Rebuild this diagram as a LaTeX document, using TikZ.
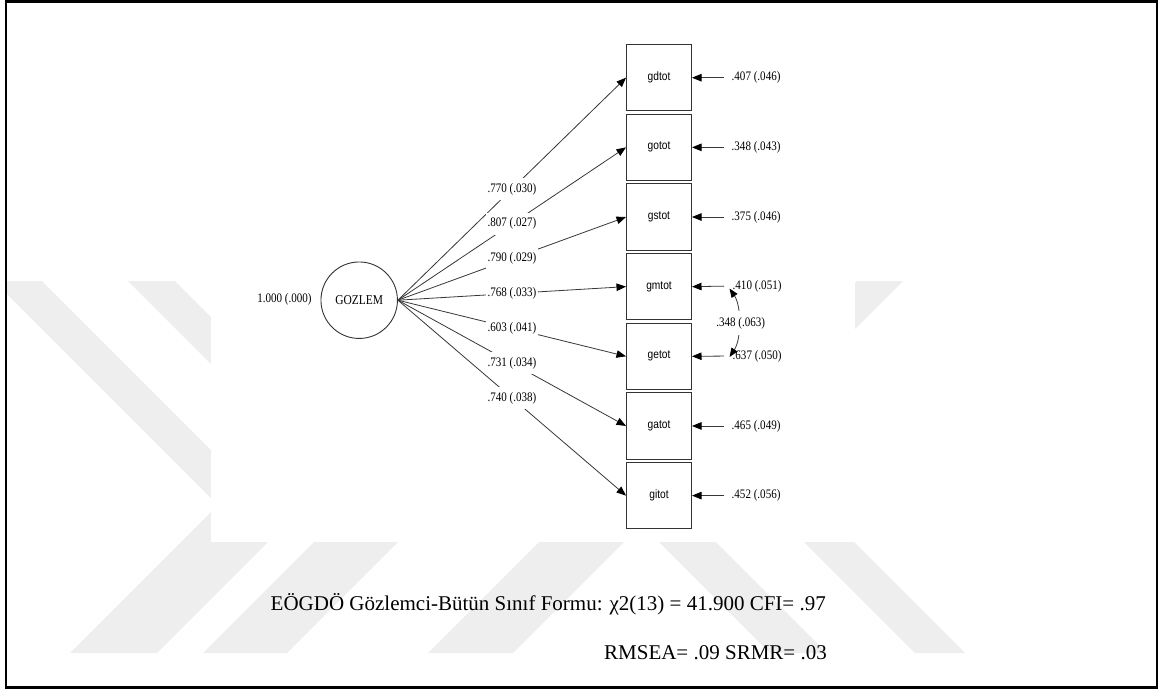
\documentclass[tikz,border=0pt]{standalone}
\usepackage{fontspec}
\setmainfont{Liberation Serif}
\newfontfamily\condserif[FakeStretch=0.85]{Liberation Serif}
\newfontfamily\condsans[FakeStretch=0.85]{Liberation Sans}
\usetikzlibrary{arrows.meta}
\definecolor{wmgray}{RGB}{238,238,238}
\definecolor{linegray}{RGB}{55,55,55}
\tikzset{
  obsbox/.style={draw=black!80, line width=1pt, minimum width=65pt, minimum height=66.5pt,
    inner sep=0pt, font=\condsans\fontsize{12}{12}\selectfont},
  latent/.style={draw=black!80, line width=0.9pt, circle, minimum size=76.5pt, inner sep=0pt,
    font=\condserif\fontsize{13.5}{13.5}\selectfont},
  est/.style={font=\condserif\fontsize{13}{13}\selectfont, inner sep=0pt},
  loadlbl/.style={est, fill=white, inner xsep=1.5pt, inner ysep=5pt},
  patharrow/.style={draw=linegray, line width=0.8pt,
    -{Triangle[length=9.5pt,width=7.5pt,color=black]}},
  covarrow/.style={draw=linegray, line width=0.8pt,
    {Triangle[length=9pt,width=7pt,color=black]}-{Triangle[length=9pt,width=7pt,color=black]}},
  wm/.style={fill=wmgray, draw=none},
  caption/.style={font=\fontsize{21}{21}\selectfont, inner sep=0pt, anchor=base east},
}
\begin{document}
\begin{tikzpicture}[x=1pt,y=-1pt]
\useasboundingbox (0,0) rectangle (1159,689);
% watermark
\begin{scope}
  \clip (6,1.3) rectangle (1157,687.5);
  \fill[wm] (-6,281) -- (42,281) -- (285.5,524.5) -- (157,653) -- (70,653) -- (218,505) -- cycle;
  \fill[wm] (128,281) -- (175,281) -- (417,523) -- (287,653) -- (203,653) -- (351.5,504.5) -- cycle;
  \fill[wm] (428,653) -- (513,653) -- (666,500) -- (581,500) -- cycle;
  \fill[wm] (597,480) -- (654,480) -- (827,653) -- (770,653) -- cycle;
  \fill[wm] (857,281) -- (903,281) -- (748,436) -- (965,653) -- (915,653) -- (700,438) -- cycle;
  \fill[white] (211,0) rectangle (855,542);
\end{scope}
\draw[line width=2.5pt] (6,1.3) rectangle (1157,687.5);

% latent variable
\node[latent] (F) at (359.2,300.2) {GOZLEM};
\node[est] (v) at (284.5,299.3) {1.000 (.000)};

% indicators
\node[obsbox] (b1) at (659,77.7) {gdtot};
\node[obsbox] (b2) at (659,147.35) {gotot};
\node[obsbox] (b3) at (659,217.0) {gstot};
\node[obsbox] (b4) at (659,286.65) {gmtot};
\node[obsbox] (b5) at (659,356.3) {getot};
\node[obsbox] (b6) at (659,425.95) {gatot};
\node[obsbox] (b7) at (659,495.6) {gitot};

% loadings
\draw[patharrow] (F.east) -- node[loadlbl, pos=0.5] (l1) {.770 (.030)} (b1.west);
\draw[patharrow] (F.east) -- node[loadlbl, pos=0.5] (l2) {.807 (.027)} (b2.west);
\draw[patharrow] (F.east) -- node[loadlbl, pos=0.5] (l3) {.790 (.029)} (b3.west);
\draw[patharrow] (F.east) -- node[loadlbl, pos=0.5] (l4) {.768 (.033)} (b4.west);
\draw[patharrow] (F.east) -- node[loadlbl, pos=0.5] (l5) {.603 (.041)} (b5.west);
\draw[patharrow] (F.east) -- node[loadlbl, pos=0.5] (l6) {.731 (.034)} (b6.west);
\draw[patharrow] (F.east) -- node[loadlbl, pos=0.5] (l7) {.740 (.038)} (b7.west);

% residuals
\node[est, anchor=west] (e1) at (731.5,77.7) {.407 (.046)};
\node[est, anchor=west] (e2) at (731.5,147.35) {.348 (.043)};
\node[est, anchor=west] (e3) at (731.5,217.0) {.375 (.046)};
\node[est, anchor=west] (e4) at (732.5,286.0) {.410 (.051)};
\node[est, anchor=west] (e5) at (732.5,356.0) {.637 (.050)};
\node[est, anchor=west] (e6) at (731.5,425.95) {.465 (.049)};
\node[est, anchor=west] (e7) at (731.5,495.6) {.452 (.056)};
\foreach \i/\s in {1/7.5,2/7.5,3/7.5,4/8.5,5/8.5,6/7.5,7/7.5}
  \draw[patharrow, shorten <=\s pt] (e\i.west) -- (b\i.east);

% residual covariance
\coordinate (cv1) at (729.5,288.5);
\coordinate (cv2) at (729.5,357);
\draw[covarrow] (cv1) .. controls (741.5,306) and (741.5,339) .. (cv2);
\node[est, fill=white, inner xsep=1pt, inner ysep=6pt] (cvl) at (740.7,323.3) {.348 (.063)};

% fit indices
\node[caption] (t1) at (826,610) {EÖGDÖ Gözlemci-Bütün Sınıf Formu: χ2(13) = 41.900 CFI= .97};
\node[caption] (t2) at (827,659) {RMSEA= .09 SRMR= .03};
\end{tikzpicture}
\end{document}
